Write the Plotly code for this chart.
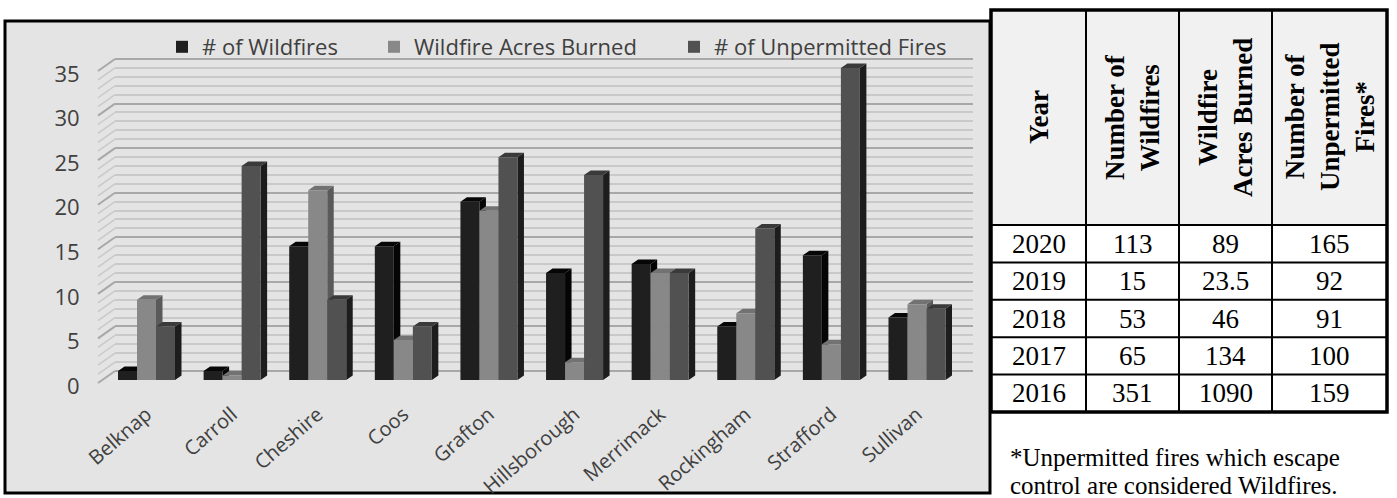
import plotly.graph_objects as go

# ---------------- data ----------------
counties = ["Belknap", "Carroll", "Cheshire", "Coos", "Grafton",
            "Hillsborough", "Merrimack", "Rockingham", "Strafford", "Sullivan"]
num_wildfires = [1, 1, 15, 15, 20, 12, 13, 6, 14, 7]
acres_burned = [9, 0.5, 21.3, 4.5, 19, 2, 12, 7.5, 4, 8.5]
unpermitted_fires = [6, 24, 9, 6, 25, 23, 12, 17, 35, 8]
series_names = ["# of Wildfires", "Wildfire Acres Burned", "# of Unpermitted Fires"]
y_ticks = [0, 5, 10, 15, 20, 25, 30, 35]
y_minor = [v for v in range(0, 36) if v % 5]

table_headers = ["Year", "Number of<br>Wildfires", "Wildfire<br>Acres Burned",
                 "Number of<br>Unpermitted<br>Fires*"]
table_years = ["2020", "2019", "2018", "2017", "2016"]
table_wildfires = ["113", "15", "53", "65", "351"]
table_acres = ["89", "23.5", "46", "134", "1090"]
table_unpermitted = ["165", "92", "91", "100", "159"]
footnote_lines = ["*Unpermitted fires which escape", "control are considered Wildfires."]

# ---------------- layout constants (pixels) ----------------
W, H = 1397, 498
def fx(px):
    return px / W
def fy(py):
    return 1 - py / H

PX_PER_UNIT = 8.914
BAR_X0, BAR_X1 = 103.7, 959.8          # front plane of the bars
BAR_Y0 = 380.0                          # pixel of value 0 on the bar plane
BAR_YMAX = (BAR_Y0 - 52) / PX_PER_UNIT
WALL_X0, WALL_X1 = 115.0, 973.0         # back wall
WALL_Y0 = 371.0
WALL_RANGE = [-1.5, 35.3]
SIDE_FRONT_X = 98.0
SIDE_SHIFT = 12.0 / PX_PER_UNIT

GROUP_W = 0.666
BAR_W = GROUP_W / 3
DX = 6.5 / ((BAR_X1 - BAR_X0) / 10)
DY = 4.5 / PX_PER_UNIT

front_colors = ["#1f1f1f", "#888888", "#515151"]
top_colors = ["#060606", "#727272", "#3a3a3a"]
side_colors = ["#050505", "#5a5a5a", "#1d1d1d"]
TEXT_COL = "#404040"
FONT = "Open Sans"
SERIF = "Liberation Serif"

all_series = [num_wildfires, acres_burned, unpermitted_fires]
xs_idx = list(range(len(counties)))

fig = go.Figure()

# side faces, then top faces (depth illusion), drawn on the base bar subplot
def face_trace(k, kind):
    xs, ys = [], []
    for i, v in enumerate(all_series[k]):
        L = i - GROUP_W / 2 + k * BAR_W
        R = L + BAR_W
        if kind == "side":
            xs += [R, R + DX, R + DX, R, R, None]
            ys += [0, DY, v + DY, v, 0, None]
        else:
            xs += [L, R, R + DX, L + DX, L, None]
            ys += [v, v, v + DY, v + DY, v, None]
    col = side_colors[k] if kind == "side" else top_colors[k]
    return go.Scatter(x=xs, y=ys, mode="lines", fill="toself", fillcolor=col,
                      line=dict(width=0, color=col), hoverinfo="skip",
                      showlegend=False, xaxis="x2", yaxis="y2")

for kind in ["side", "top"]:
    for k in range(3):
        fig.add_trace(face_trace(k, kind))

# front faces: real bars
legend_ids = ["legend", "legend2", "legend3"]
for k in range(3):
    fig.add_trace(go.Bar(
        x=xs_idx, y=all_series[k], name=series_names[k],
        width=BAR_W, offset=-GROUP_W / 2 + k * BAR_W,
        marker=dict(color=front_colors[k], line=dict(width=0)),
        xaxis="x3", yaxis="y3", legend=legend_ids[k]))

# invisible trace to anchor the back-wall subplot
fig.add_trace(go.Scatter(x=[0, 1], y=[0, 0], mode="lines", line=dict(width=0),
                         hoverinfo="skip", showlegend=False, xaxis="x", yaxis="y"))

shapes = []
# chart box
shapes.append(dict(type="rect", xref="paper", yref="paper",
                   x0=fx(5), x1=fx(990), y0=fy(493), y1=fy(21),
                   fillcolor="#e4e4e4", line=dict(color="black", width=3), layer="below"))
# side wall diagonals
for v in range(0, 36):
    major = v % 5 == 0
    shapes.append(dict(type="line", xref="paper", yref="y",
                       x0=fx(SIDE_FRONT_X), x1=fx(WALL_X0), y0=v - SIDE_SHIFT, y1=v,
                       line=dict(color="#a8a8a8" if major else "#c9c9c9",
                                 width=2 if major else 1.5), layer="below"))

# ---------------- table ----------------
T_X = [991, 1086, 1179, 1272, 1387]
T_Y_TOP, T_Y_HEAD = 10, 225
ROW_H = 37.4
n_rows = len(table_years)
T_Y_BOT = T_Y_HEAD + ROW_H * n_rows

shapes.append(dict(type="rect", xref="paper", yref="paper", x0=fx(T_X[0]), x1=fx(T_X[-1]),
                   y0=fy(T_Y_BOT), y1=fy(T_Y_TOP), fillcolor="white", line=dict(width=0)))
shapes.append(dict(type="rect", xref="paper", yref="paper", x0=fx(T_X[0]), x1=fx(T_X[-1]),
                   y0=fy(T_Y_HEAD), y1=fy(T_Y_TOP), fillcolor="#f1f1f1", line=dict(width=0)))
for r in range(n_rows):
    yy = T_Y_HEAD + ROW_H * r
    shapes.append(dict(type="line", xref="paper", yref="paper", x0=fx(T_X[0]), x1=fx(T_X[-1]),
                       y0=fy(yy), y1=fy(yy), line=dict(color="black", width=2)))
for cx in T_X[1:-1]:
    shapes.append(dict(type="line", xref="paper", yref="paper", x0=fx(cx), x1=fx(cx),
                       y0=fy(T_Y_BOT), y1=fy(T_Y_TOP), line=dict(color="black", width=2)))
shapes.append(dict(type="rect", xref="paper", yref="paper", x0=fx(T_X[0]), x1=fx(T_X[-1]),
                   y0=fy(T_Y_BOT), y1=fy(T_Y_TOP), line=dict(color="black", width=3.5)))

annotations = []
for c, htxt in enumerate(table_headers):
    annotations.append(dict(xref="paper", yref="paper",
                            x=fx((T_X[c] + T_X[c + 1]) / 2), y=fy((T_Y_TOP + T_Y_HEAD) / 2),
                            text="<br>".join("<b>%s</b>" % s for s in htxt.split("<br>")),
                            textangle=-90, showarrow=False, xanchor="center", yanchor="middle",
                            font=dict(family=SERIF, size=27, color="black")))
columns = [table_years, table_wildfires, table_acres, table_unpermitted]
for c, col in enumerate(columns):
    for r, val in enumerate(col):
        annotations.append(dict(xref="paper", yref="paper",
                                x=fx((T_X[c] + T_X[c + 1]) / 2),
                                y=fy(T_Y_HEAD + ROW_H * (r + 0.5)),
                                text=val, showarrow=False, xanchor="center", yanchor="middle",
                                font=dict(family=SERIF, size=27, color="black")))
for j, line in enumerate(footnote_lines):
    annotations.append(dict(xref="paper", yref="paper", x=fx(1008), y=fy(457 + 28 * j),
                            text=line, showarrow=False, xanchor="left", yanchor="middle",
                            font=dict(family=SERIF, size=25, color="black")))

legend_common = dict(orientation="h", yanchor="middle", y=fy(47), xanchor="left",
                     bgcolor="rgba(0,0,0,0)", borderwidth=0,
                     font=dict(family=FONT, size=22, color=TEXT_COL))
legend_x = [162, 374, 674]

fig.update_layout(
    width=W, height=H,
    margin=dict(l=0, r=0, t=0, b=0, pad=0, autoexpand=False),
    paper_bgcolor="white", plot_bgcolor="rgba(0,0,0,0)",
    barmode="overlay",
    showlegend=True,
    legend=dict(legend_common, x=fx(legend_x[0])),
    legend2=dict(legend_common, x=fx(legend_x[1])),
    legend3=dict(legend_common, x=fx(legend_x[2])),
    xaxis=dict(domain=[fx(WALL_X0), fx(WALL_X1)], range=[0, 1], visible=False, anchor="y",
               automargin=False),
    yaxis=dict(domain=[fy(WALL_Y0 - WALL_RANGE[0] * PX_PER_UNIT), fy(WALL_Y0 - WALL_RANGE[1] * PX_PER_UNIT)],
               range=WALL_RANGE, anchor="x", tickmode="array", tickvals=y_ticks,
               showticklabels=False, ticks="", showline=False, zeroline=False,
               showgrid=True, gridcolor="#a8a8a8", gridwidth=2, automargin=False,
               minor=dict(tickmode="array", tickvals=y_minor, showgrid=True,
                          gridcolor="#c9c9c9", gridwidth=1.5, ticks="")),
    xaxis2=dict(domain=[fx(BAR_X0), fx(BAR_X1)], range=[-0.5, 9.5], anchor="y2",
                tickmode="array", tickvals=xs_idx, ticktext=counties, tickangle=-41,
                tickfont=dict(family=FONT, size=20, color=TEXT_COL),
                showgrid=False, zeroline=False, showline=False, ticks="",
                ticklabelstandoff=18, automargin=False),
    yaxis2=dict(domain=[fy(BAR_Y0), fy(52)], range=[0, BAR_YMAX], anchor="x2",
                tickmode="array", tickvals=y_ticks,
                tickfont=dict(family=FONT, size=22, color=TEXT_COL),
                showgrid=False, zeroline=False, showline=False, ticks="",
                ticklabelshift=6, ticklabelstandoff=23, automargin=False),
    xaxis3=dict(overlaying="x2", range=[-0.5, 9.5], visible=False, anchor="y3",
                automargin=False),
    yaxis3=dict(overlaying="y2", range=[0, BAR_YMAX], visible=False, anchor="x3",
                automargin=False),
    shapes=shapes,
    annotations=annotations,
)

fig.write_html("out.html", config={"displayModeBar": False},
               post_script="document.body.style.margin='0px';document.body.style.overflow='hidden';")
